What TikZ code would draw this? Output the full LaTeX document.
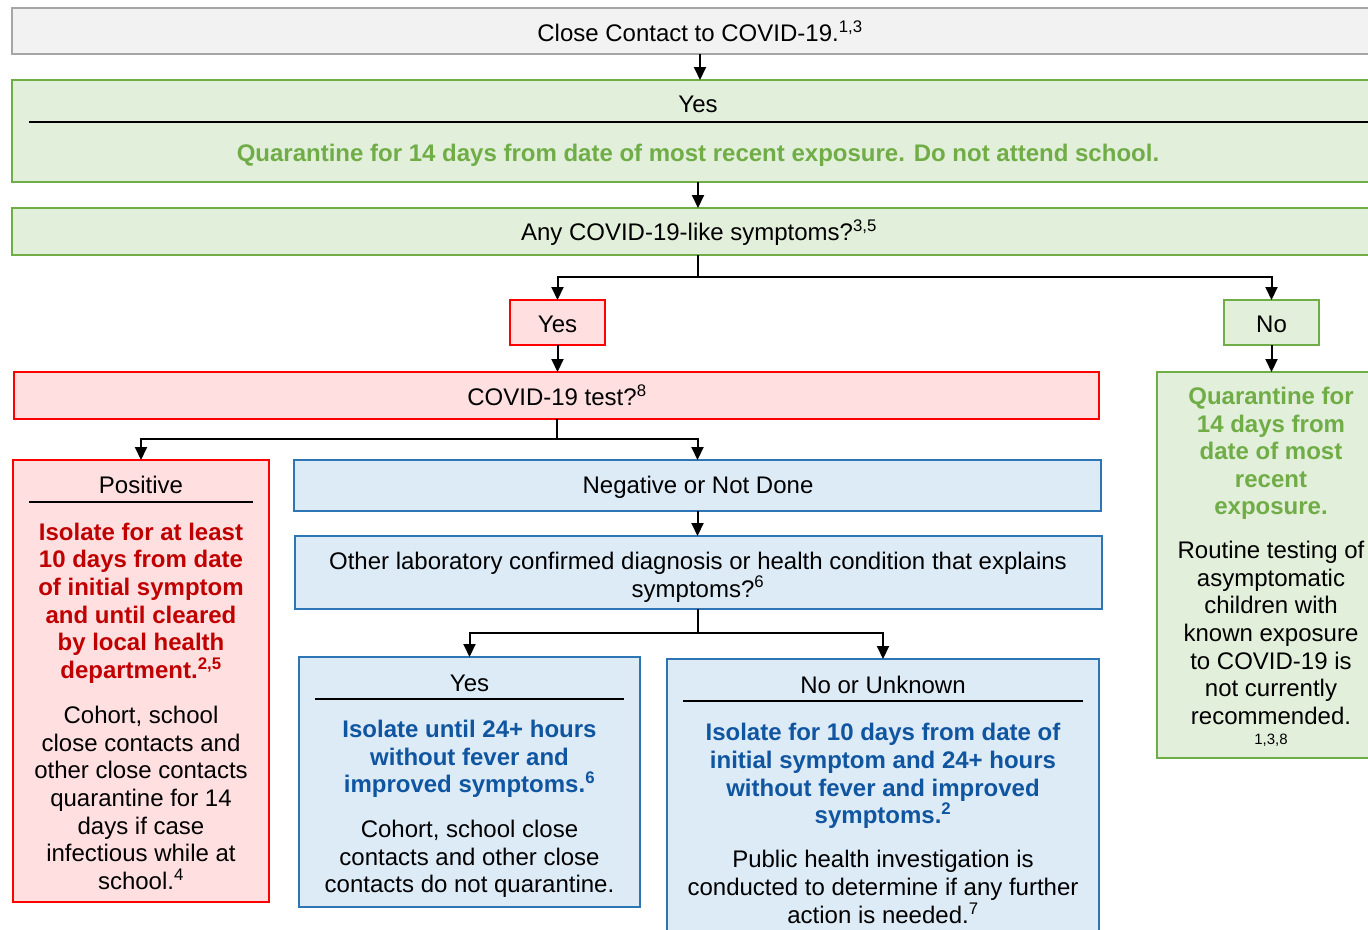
\documentclass[tikz,border=0pt]{standalone}
\usepackage{fontspec}
\setmainfont{Liberation Sans}
\usetikzlibrary{arrows.meta}
\definecolor{grayB}{HTML}{A6A6A6}
\definecolor{grayF}{HTML}{F2F2F2}
\definecolor{greenB}{HTML}{70AD47}
\definecolor{greenF}{HTML}{E2EFDA}
\definecolor{redB}{HTML}{FF0000}
\definecolor{redF}{HTML}{FFDFE0}
\definecolor{blueB}{HTML}{2E75B6}
\definecolor{blueF}{HTML}{DDEBF7}
\definecolor{greenT}{HTML}{70AD47}
\definecolor{redT}{HTML}{C00000}
\definecolor{blueT}{HTML}{0F55A0}
\newcommand\fsz{\fontsize{24}{27.6}\selectfont}
\begin{document}
\begin{tikzpicture}[x=1pt,y=-1pt,
  box/.style={draw, line width=2pt, inner sep=0pt, outer sep=0pt, anchor=north west},
  graybox/.style={box, draw=grayB, fill=grayF},
  greenbox/.style={box, draw=greenB, fill=greenF},
  redbox/.style={box, draw=redB, fill=redF},
  bluebox/.style={box, draw=blueB, fill=blueF},
  txt/.style={font=\fsz, align=center, inner sep=0pt, anchor=center},
  btxt/.style={txt, font=\fsz\bfseries},
  arr/.style={-{Triangle[width=12pt,length=13pt]}, line width=2pt, black},
  conn/.style={line width=2pt, black},
  rulel/.style={line width=2pt, black}
]
\useasboundingbox (0,0) rectangle (1368,929);
\fill[white] (0,0) rectangle (1368,929);

% boxes
\node[graybox, minimum width=1376pt, minimum height=46pt] (b1) at (12,8) {};
\node[greenbox, minimum width=1378pt, minimum height=102pt] (b2) at (12,80) {};
\node[greenbox, minimum width=1378pt, minimum height=47pt] (b3) at (12,208) {};
\node[redbox, minimum width=95pt, minimum height=45pt] (yes) at (510,300) {};
\node[greenbox, minimum width=95pt, minimum height=45pt] (no) at (1224,300) {};
\node[redbox, minimum width=1085pt, minimum height=47pt] (test) at (14,372) {};
\node[greenbox, minimum width=228pt, minimum height=386pt] (rbox) at (1157,372) {};
\node[redbox, minimum width=256pt, minimum height=442pt] (pos) at (13,460) {};
\node[bluebox, minimum width=807pt, minimum height=51pt] (neg) at (294,460) {};
\node[bluebox, minimum width=807pt, minimum height=73pt] (other) at (295,536) {};
\node[bluebox, minimum width=341pt, minimum height=250pt] (yes2) at (299,657) {};
\node[bluebox, minimum width=432pt, minimum height=300pt] (no2) at (667,659) {};

% texts
\node[txt] (t1) at (700,31) {Close Contact to COVID-19.\textsuperscript{1,3}};
\node[txt] (t2) at (698,104) {Yes};
\draw[rulel] (29,122) coordinate (r2a) -- (1370,122) coordinate (r2b);
\node[btxt, text=greenT] (t2b) at (698,155) {Quarantine for 14 days from date of most recent exposure. Do not attend school.};
\node[txt] (t3) at (699,233) {Any COVID-19-like symptoms?\textsuperscript{3,5}};
\node[txt] (tyes) at ([yshift=-2pt]yes.center) {Yes};
\node[txt] (tno) at ([yshift=-2pt]no.center) {No};
\node[txt] (ttest) at (557,395) {COVID-19 test?\textsuperscript{8}};

\node[txt] (tpos) at (141,485) {Positive};
\draw[rulel] (29,502) coordinate (rpa) -- (253,502) coordinate (rpb);
\node[btxt, text=redT] (tpos2) at (141,603) {Isolate for at least\\10 days from date\\of initial symptom\\and until cleared\\by local health\\department.\textsuperscript{2,5}};
\node[txt] (tpos3) at (141,798) {Cohort, school\\close contacts and\\other close contacts\\quarantine for 14\\days if case\\infectious while at\\school.\textsuperscript{4}};

\node[txt] (tneg) at (698,487) {Negative or Not Done};
\node[txt] (tother) at (698,577) {Other laboratory confirmed diagnosis or health condition that explains\\symptoms?\textsuperscript{6}};

\node[txt] (tyes2) at (469.5,683) {Yes};
\draw[rulel] (315,699) coordinate (rya) -- (624,699) coordinate (ryb);
\node[btxt, text=blueT] (tyes2b) at (469.5,759) {Isolate until 24+ hours\\without fever and\\improved symptoms.\textsuperscript{6}};
\node[txt] (tyes2c) at (469.5,859) {Cohort, school close\\contacts and other close\\contacts do not quarantine.};

\node[txt] (tno2) at (883,685) {No or Unknown};
\draw[rulel] (683,701) coordinate (rna) -- (1083,701) coordinate (rnb);
\node[btxt, text=blueT] (tno2b) at (883,776) {Isolate for 10 days from date of\\initial symptom and 24+ hours\\without fever and improved\\symptoms.\textsuperscript{2}};
\node[txt] (tno2c) at (883,887) {Public health investigation is\\conducted to determine if any further\\action is needed.\textsuperscript{7}};

\node[btxt, text=greenT] (tr1) at (1271,453.5) {Quarantine for\\14 days from\\date of most\\recent\\exposure.};
\node[txt] (tr2) at (1271,633) {Routine testing of\\asymptomatic\\children with\\known exposure\\to COVID-19 is\\not currently\\recommended.};
\node[txt, font=\fontsize{15}{17}\selectfont] (tr3) at (1271,740) {1,3,8};

% connectors
\draw[arr] (b1.south -| t1) -- (b2.north -| t1);
\draw[arr] (b2.south -| tneg) -- (b3.north -| tneg);
\coordinate (j1) at (698,277);
\draw[conn] (b3.south -| j1) -- (j1);
\draw[arr] (j1) -| (yes.north);
\draw[arr] (j1) -| (no.north);
\draw[arr] (yes.south) -- (test.north -| yes.south);
\draw[arr] (no.south) -- (rbox.north -| no.south);
\coordinate (j2) at (557,439);
\draw[conn] (test.south -| j2) -- (j2);
\draw[arr] (j2) -| (pos.north);
\draw[arr] (j2) -| (neg.north);
\draw[arr] (neg.south) -- (other.north -| neg.south);
\coordinate (j3) at (698,633);
\draw[conn] (other.south -| j3) -- (j3);
\draw[arr] (j3) -| (yes2.north);
\draw[arr] (j3) -| (no2.north);
\end{tikzpicture}
\end{document}
